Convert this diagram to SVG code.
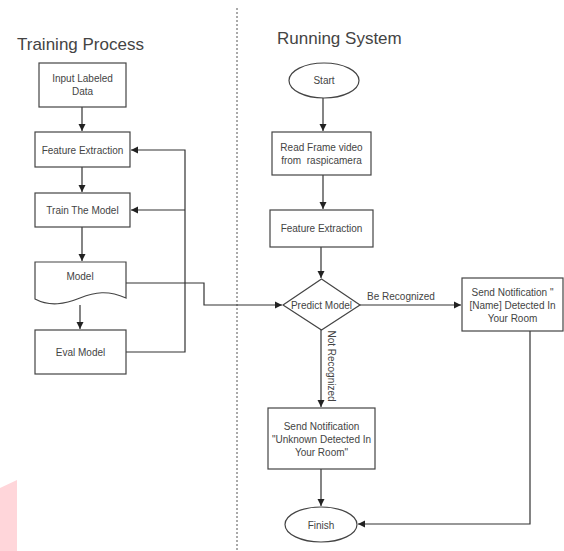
<svg xmlns="http://www.w3.org/2000/svg" width="564" height="551" viewBox="0 0 564 551">
<defs>
<marker id="ah" markerWidth="8" markerHeight="8" refX="7" refY="4" orient="auto" markerUnits="userSpaceOnUse">
<path d="M0,0.5 L7,4 L0,7.5 Z" fill="#222"/>
</marker>
<style>
.n{fill:#fff;stroke:#444;stroke-width:1.2}
.t{font-family:"Liberation Sans",Arial,sans-serif;font-size:10px;fill:#444;text-anchor:middle}
.h{font-family:"Liberation Sans",Arial,sans-serif;font-size:17px;fill:#444}
.c{fill:none;stroke:#333;stroke-width:1.2}
.a{marker-end:url(#ah)}
</style>
</defs>
<rect width="564" height="551" fill="#fff"/>
<path d="M0,488 L17,480 L17,551 L0,551 Z" fill="#ffd6da"/>
<line x1="237" y1="8" x2="237" y2="551" stroke="#555" stroke-width="1" stroke-dasharray="2,2"/>
<text class="h" x="17" y="50">Training Process</text>
<text class="h" x="277" y="44">Running System</text>

<g id="connectors">
<path class="c a" d="M82,107 V131"/>
<path class="c a" d="M82,167 V192"/>
<path class="c a" d="M82,227 V261"/>
<path class="c a" d="M80,305 V329" stroke-width="1.8"/>
<path class="c a" d="M126,352 H185 V150 H131"/>
<path class="c a" d="M185,210 H131"/>
<path class="c a" d="M126,283 H204 V305 H282"/>
<path class="c a" d="M323,98 V131"/>
<path class="c a" d="M323,175 V209"/>
<path class="c a" d="M321,247 V278"/>
<path class="c a" d="M360,305 H461"/>
<path class="c a" d="M321,330 V407"/>
<path class="c a" d="M321,469 V506"/>
<path class="c a" d="M530,331 V524 H358"/>
<text class="t" x="401" y="300" font-size="10">Be Recognized</text>
<text class="t" x="0" y="0" font-size="6.5" transform="translate(328,366) rotate(90)">Not Recognized</text>
</g>

<g id="input">
<rect class="n" x="39" y="63" width="87" height="44"/>
<text class="t" x="82.5" y="82">Input Labeled</text>
<text class="t" x="82.5" y="95">Data</text>
</g>
<g id="feat1">
<rect class="n" x="35" y="132" width="95" height="35"/>
<text class="t" x="82.5" y="153.5">Feature Extraction</text>
</g>
<g id="train">
<rect class="n" x="35" y="193" width="95" height="34"/>
<text class="t" x="82.5" y="213.5">Train The Model</text>
</g>
<g id="model">
<path class="n" d="M35,262 H126 V298 C108,290 95,292 80,298 C65,304 50,307 35,299 Z"/>
<text class="t" x="80" y="280">Model</text>
</g>
<g id="eval">
<rect class="n" x="35" y="330" width="91" height="44"/>
<text class="t" x="80.5" y="355.5">Eval Model</text>
</g>

<g id="start">
<ellipse class="n" cx="324" cy="80.5" rx="35" ry="17.5"/>
<text class="t" x="324" y="84">Start</text>
</g>
<g id="read">
<rect class="n" x="272" y="132" width="99" height="43"/>
<text class="t" x="321.5" y="151">Read Frame video</text>
<text class="t" x="321.5" y="164" xml:space="preserve">from  raspicamera</text>
</g>
<g id="feat2">
<rect class="n" x="270" y="210" width="103" height="37"/>
<text class="t" x="321.5" y="232">Feature Extraction</text>
</g>
<g id="predict">
<path class="n" d="M321.5,279 L360,305 L321.5,330 L283,305 Z"/>
<text class="t" x="321.5" y="309">Predict Model</text>
</g>
<g id="notif1">
<rect class="n" x="462" y="278" width="101" height="53"/>
<text class="t" x="512.5" y="296">Send Notification "</text>
<text class="t" x="512.5" y="309">[Name] Detected In</text>
<text class="t" x="512.5" y="322">Your Room</text>
</g>
<g id="notif2">
<rect class="n" x="268" y="408" width="107" height="61"/>
<text class="t" x="321.5" y="430">Send Notification</text>
<text class="t" x="321.5" y="443">"Unknown Detected In</text>
<text class="t" x="321.5" y="456">Your Room"</text>
</g>
<g id="finish">
<ellipse class="n" cx="321" cy="524.5" rx="36" ry="17.5"/>
<text class="t" x="321" y="528.5">Finish</text>
</g>
</svg>
